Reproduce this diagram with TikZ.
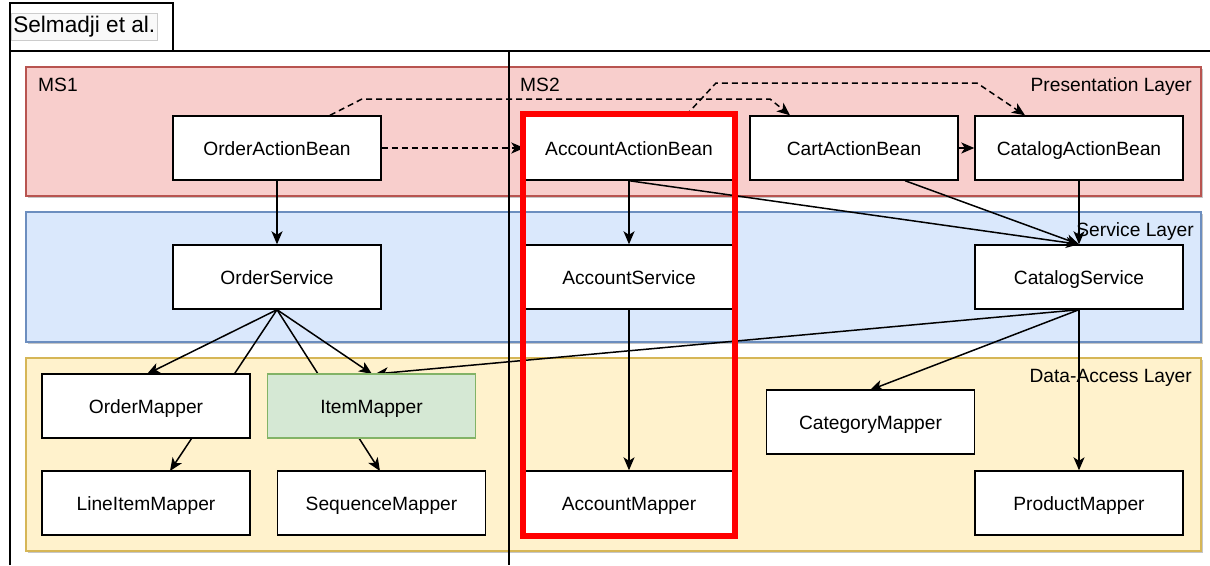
\documentclass[tikz,border=0pt]{standalone}
\usepackage{fontspec}
\setmainfont{Liberation Sans}
\usetikzlibrary{arrows.meta,calc}
\definecolor{pinkF}{HTML}{F8CECC}\definecolor{pinkS}{HTML}{B85450}
\definecolor{blueF}{HTML}{DAE8FC}\definecolor{blueS}{HTML}{6C8EBF}
\definecolor{yelF}{HTML}{FFF2CC}\definecolor{yelS}{HTML}{D6B656}
\definecolor{grnF}{HTML}{D5E8D4}\definecolor{grnS}{HTML}{82B366}
\definecolor{redB}{HTML}{FF0000}
\tikzset{
  comp/.style={draw=black, fill=white, line width=1.4pt, minimum width=208pt, minimum height=64pt, inner sep=0pt, text height=17pt, text depth=3pt, font=\fontsize{19.2}{22}\selectfont},
  layer/.style={line width=1.2pt},
  arr/.style={line width=1.5pt, -{Stealth[length=13pt,width=11pt,inset=3.5pt]}},
  darr/.style={arr, dash pattern=on 6pt off 4pt},
  lbl/.style={font=\fontsize{19.2}{22}\selectfont, inner sep=0pt, text height=17pt, text depth=3pt},
}
\begin{document}
\begin{tikzpicture}[x=1pt,y=-1pt]
\useasboundingbox (0,0) rectangle (1210,565);
% frame
\draw[line width=1.4pt] (10,565) -- (10,3) -- (173,3) -- (173,51);
\draw[line width=1.4pt] (10,51) -- (1210,51);
\node[draw=gray!40, fill=gray!5, line width=0.6pt, inner xsep=2pt, inner ysep=3pt, anchor=west, font=\fontsize{22.6}{26}\selectfont] (title) at (11,27) {Selmadji et al.};
% layers
\foreach \ya/\yb/\f/\s in {67/196/pinkF/pinkS, 212/342/blueF/blueS, 358/551/yelF/yelS}{
  \fill[gray!45] (28,\ya+2) rectangle (1203,\yb+2);
  \draw[layer, fill=\f, draw=\s] (26,\ya) rectangle (1201,\yb);
}
\node[lbl, anchor=west] (ms1) at (38,84) {MS1};
\node[lbl, anchor=west] (ms2) at (520,84) {MS2};
\node[lbl, anchor=east] (pl) at (1192,84) {Presentation Layer};
\node[lbl, anchor=east] (sl) at (1194,229) {Service Layer};
\node[lbl, anchor=east] (dl) at (1192,375) {Data-Access Layer};
% divider
\draw[line width=1.4pt] (509,51) -- (509,565);
% upper components
\node[comp] (oab) at (277,148) {OrderActionBean};
\node[comp] (aab) at (629,148) {AccountActionBean};
\node[comp] (cab) at (854,148) {CartActionBean};
\node[comp] (ctab) at (1079,148) {CatalogActionBean};
\node[comp] (os) at (277,277) {OrderService};
\node[comp] (as) at (629,277) {AccountService};
\node[comp] (cs) at (1079,277) {CatalogService};
% edges (behind mapper boxes)
\draw[arr] (os.south) -- (170,471) coordinate (limtop);
\draw[arr] (os.south) -- (380,471) coordinate (smtop);
\draw[arr] (os.south) -- (147,374) coordinate (omtop);
\draw[arr] (os.south) -- (372,374) coordinate (imtop);
\draw[arr] (cs.south) -- (375,374) coordinate (imtop2);
\draw[arr] (cs.south) -- (870,390) coordinate (cmtop);
% mappers
\node[comp] (om) at (146,406) {OrderMapper};
\node[comp, fill=grnF, draw=grnS] (im) at (371.5,406) {ItemMapper};
\node[comp] (lim) at (146,503) {LineItemMapper};
\node[comp] (sm) at (381.5,503) {SequenceMapper};
\node[comp] (am) at (629,503) {AccountMapper};
\node[comp] (cm) at (870.5,422) {CategoryMapper};
\node[comp] (pm) at (1079,503) {ProductMapper};
% vertical edges
\draw[arr] (cs) -- (pm);
\draw[arr] (as) -- (am);
% upper edges
\draw[arr] (oab) -- (os);
\draw[arr] (aab) -- (as);
\draw[darr] (oab) -- (aab);
\draw[arr] (cab) -- (ctab);
\draw[arr] (aab.south) -- (cs.north);
\draw[arr] ([xshift=51pt]cab.south) -- (cs.north);
\draw[arr] (ctab.south) -- (cs.north);
\draw[darr] ([xshift=53pt]oab.north) -- (362,99) -- (770,99) -- ([xshift=-64pt]cab.north);
\draw[darr] ([xshift=57pt]aab.north) -- (716,83) -- (977,83) -- ([xshift=-54pt]ctab.north);
% highlight box
\draw[draw=redB, line width=6pt] (523,114) rectangle (735,536);
\end{tikzpicture}
\end{document}
